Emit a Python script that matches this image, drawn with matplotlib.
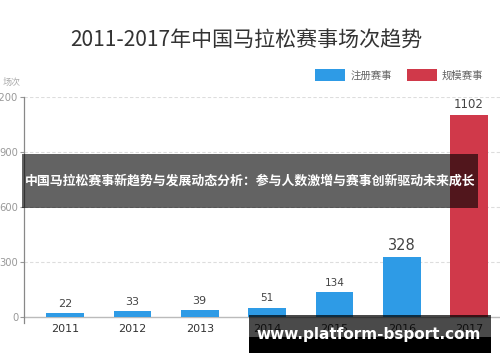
import matplotlib
matplotlib.use("Agg")
import matplotlib.pyplot as plt
from matplotlib.patches import Patch, Rectangle

plt.rcParams['font.family'] = ['Noto Sans CJK SC', 'DejaVu Sans']

years = ['2011', '2012', '2013', '2014', '2015', '2016', '2017']
counts = [22, 33, 39, 51, 134, 328, 1102]
series = ['注册赛事', '注册赛事', '注册赛事', '注册赛事', '注册赛事', '注册赛事', '规模赛事']
legend_names = ['注册赛事', '规模赛事']
y_ticks = [0, 300, 600, 900, 1200]
title = '2011-2017年中国马拉松赛事场次趋势'
banner_text = '中国马拉松赛事新趋势与发展动态分析：参与人数激增与赛事创新驱动未来成长'
watermark = 'www.platform-bsport.com'

colors = {'注册赛事': '#2e9be6', '规模赛事': '#d0394a'}
label_sizes = [8, 8, 8, 7.5, 7.5, 10.5, 8.5]

W, H = 500, 362
fig = plt.figure(figsize=(W / 100, H / 100), dpi=100)
fig.patch.set_facecolor('white')

def fx(px):
    return px / W

def fy(py):
    return 1 - py / H

ax = fig.add_axes([fx(24), fy(323), fx(500) - fx(24), fy(97) - fy(323)])
x = list(range(len(years)))
bar_colors = [colors[s] for s in series]
bars = ax.bar(x, counts, width=0.56, color=bar_colors, zorder=3)
ax.set_xlim(-0.61, 6.46)
ax.set_ylim(-33, 1200)

for rect, v, fs in zip(bars, counts, label_sizes):
    ax.annotate(str(v), (rect.get_x() + rect.get_width() / 2, v),
                xytext=(0, 3), textcoords='offset points',
                ha='center', va='bottom', fontsize=fs, color='#444444',
                family='DejaVu Sans', zorder=4)

for t in y_ticks[1:]:
    ax.axhline(t, color='#dddddd', lw=0.8, ls=(0, (3, 2)), zorder=1)
ax.axhline(0, color='#bbbbbb', lw=1.0, zorder=2)

for s in ['top', 'right', 'bottom']:
    ax.spines[s].set_visible(False)
ax.spines['left'].set_color('#888888')
ax.spines['left'].set_linewidth(0.9)

ax.set_yticks(y_ticks)
ax.set_yticklabels([str(t) for t in y_ticks], family='DejaVu Sans')
ax.tick_params(axis='y', length=3, color='#999999', labelcolor='#999999',
               labelsize=7.2, pad=1)
ax.set_xticks(x)
ax.set_xticklabels(years, family='DejaVu Sans')
ax.tick_params(axis='x', length=0, labelcolor='#333333', labelsize=8, pad=0.5)

fig.text(fx(246), fy(40), title, ha='center', va='center', fontsize=15.1,
         color='#333333')
fig.text(fx(3), fy(82), '场次', ha='left', va='center', fontsize=6.5,
         color='#aaaaaa')

handles = [Patch(facecolor=colors[n], edgecolor='none', label=n) for n in legend_names]
leg = fig.legend(handles=handles, loc='center left',
                 bbox_to_anchor=(fx(315), fy(75)), ncol=2, frameon=False,
                 fontsize=7.5, handlelength=2.9, handleheight=1.35,
                 handletextpad=0.5, columnspacing=1.4, borderpad=0,
                 borderaxespad=0)
for t in leg.get_texts():
    t.set_color('#666666')

# banner overlay
fig.patches.append(Rectangle((fx(22), fy(208)), fx(478) - fx(22), fy(154) - fy(208),
                             transform=fig.transFigure, facecolor='black',
                             alpha=0.61, edgecolor='none', zorder=10))
fig.text(fx(250), fy(181), banner_text, ha='center', va='center', fontsize=9.3,
         color='white', fontweight='bold', zorder=11)

# watermark overlay
fig.patches.append(Rectangle((fx(249), fy(337)), fx(491) - fx(249), fy(315) - fy(337),
                             transform=fig.transFigure, facecolor='black',
                             alpha=0.71, edgecolor='none', zorder=10))
fig.patches.append(Rectangle((fx(249), fy(353)), fx(491) - fx(249), fy(337) - fy(353),
                             transform=fig.transFigure, facecolor='black',
                             alpha=1.0, edgecolor='none', zorder=10))
fig.text(fx(369), fy(334), watermark, ha='center', va='center', fontsize=11,
         color='white', fontweight='bold', family='DejaVu Sans', zorder=11)

fig.savefig('out.png', dpi=100)
